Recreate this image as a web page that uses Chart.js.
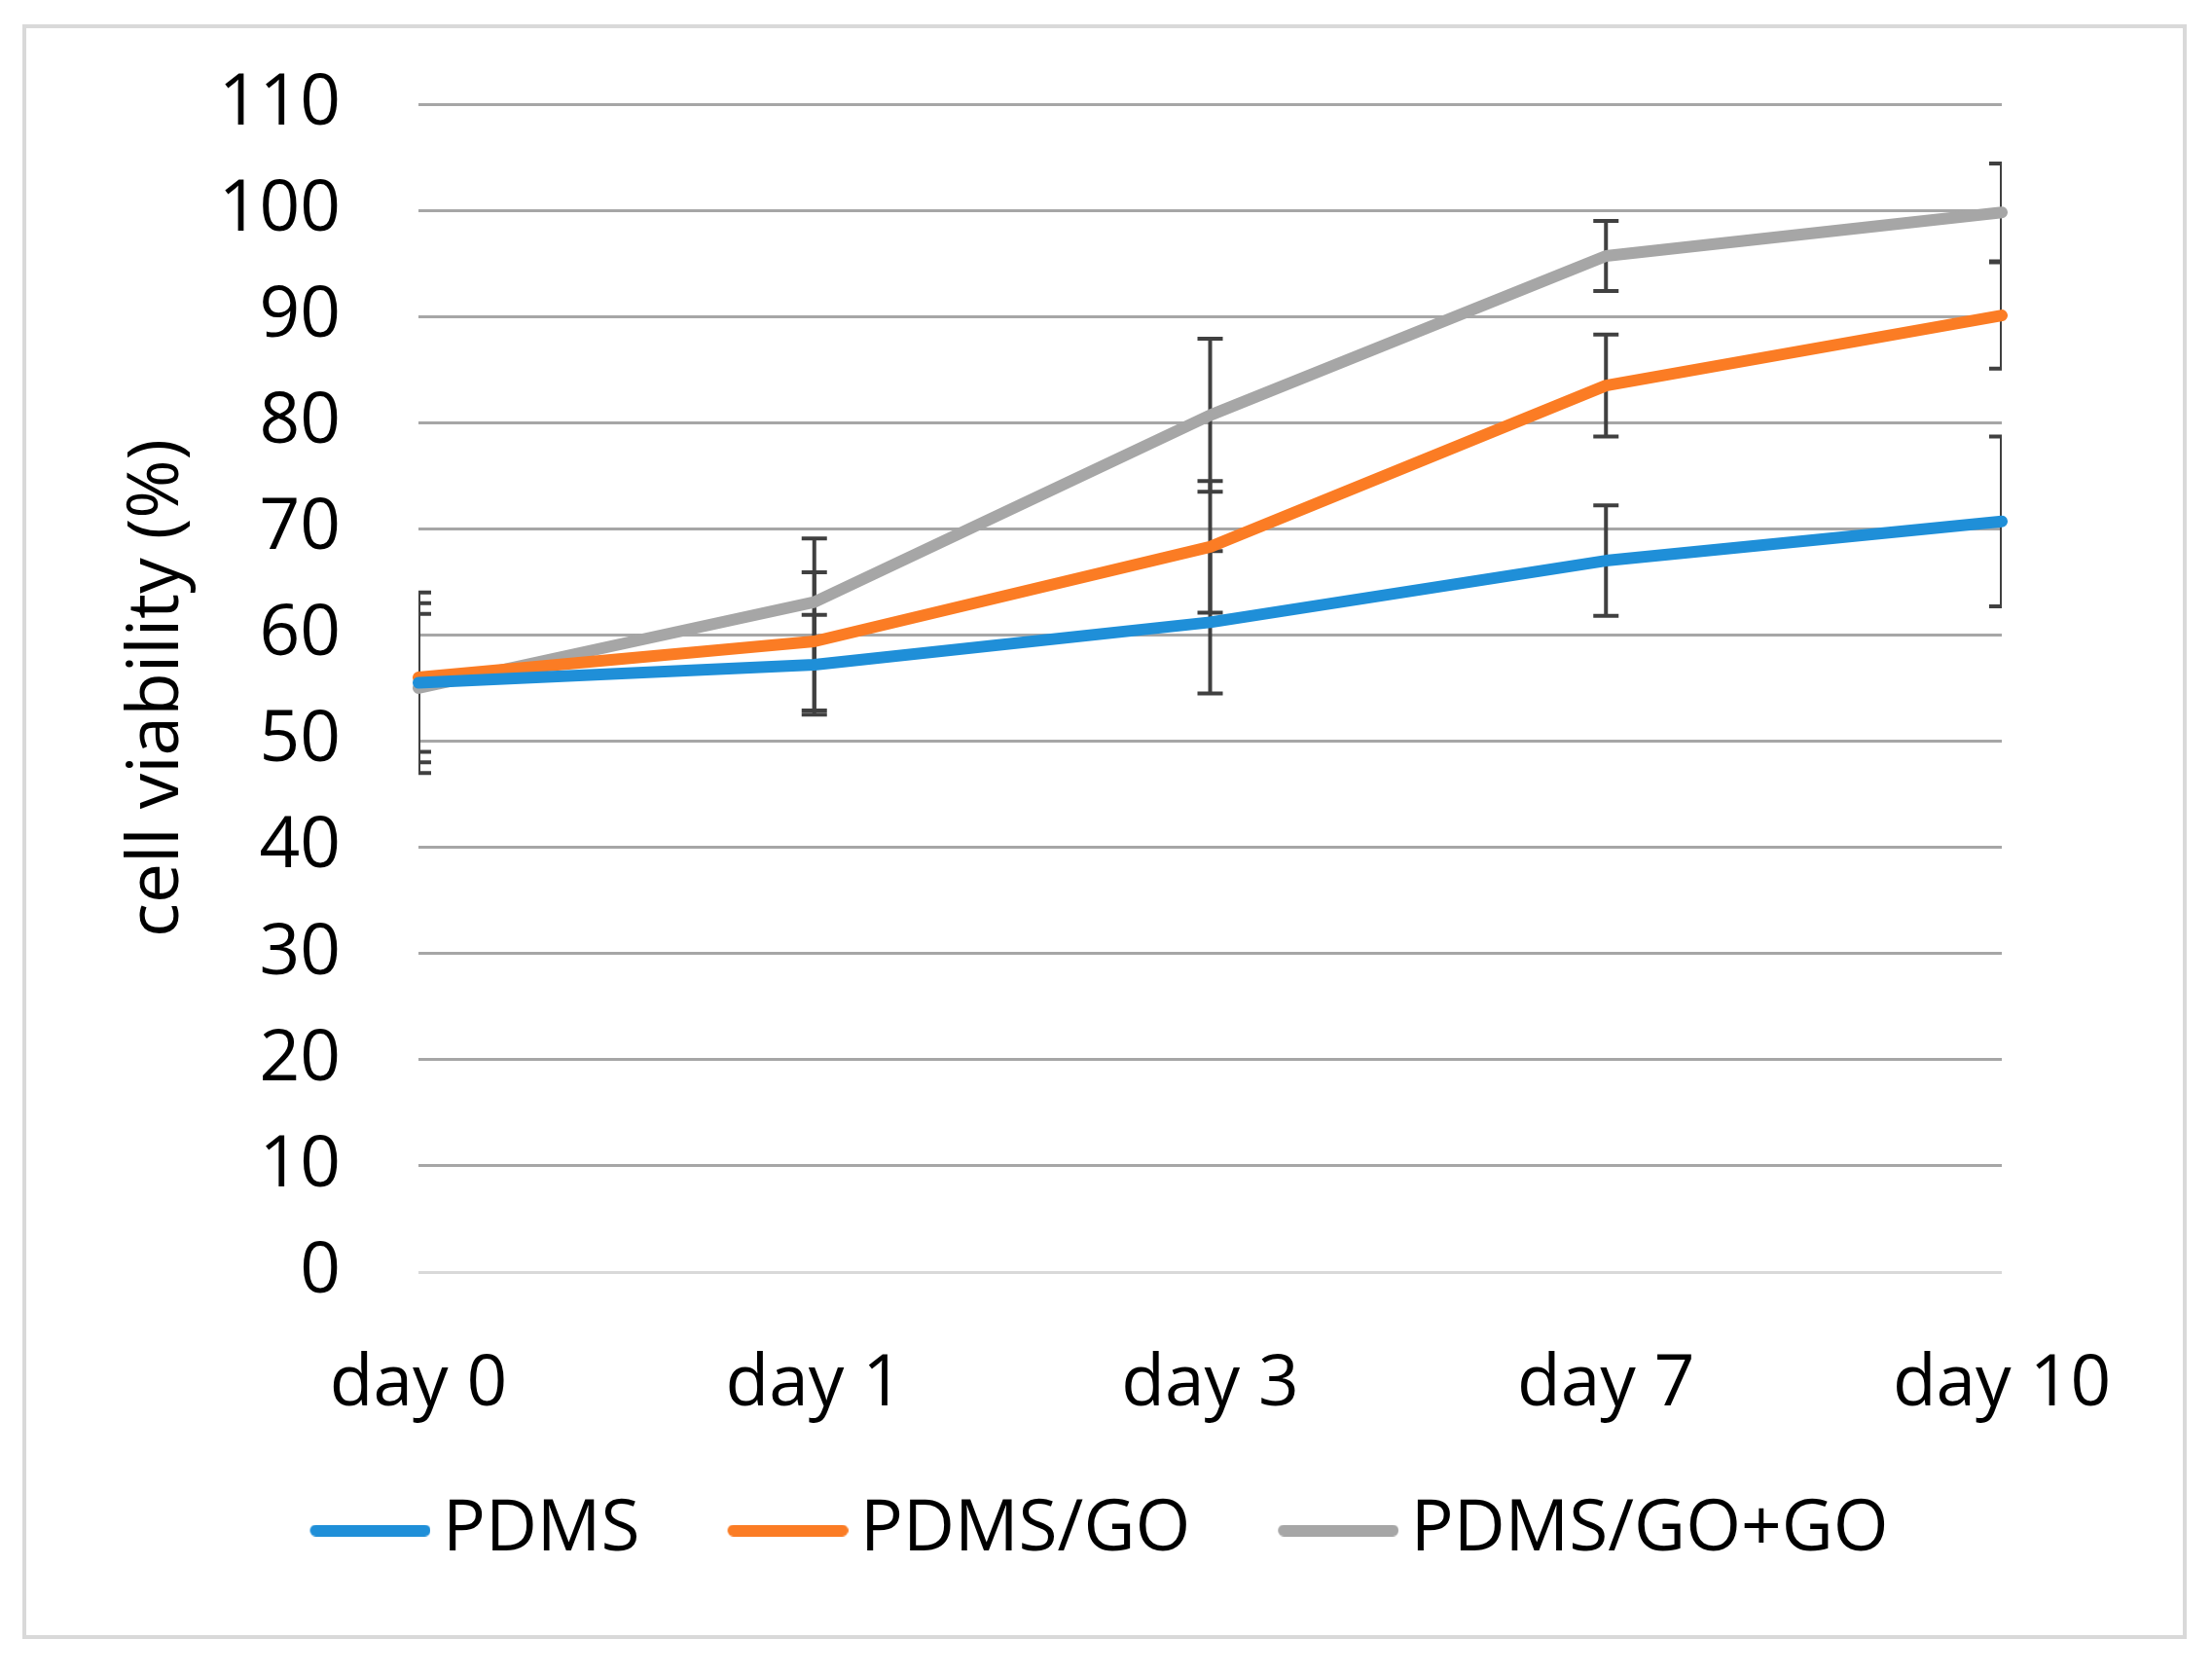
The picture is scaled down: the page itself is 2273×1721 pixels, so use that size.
<!DOCTYPE html>
<html>
<head>
<meta charset="utf-8">
<script src="https://cdn.jsdelivr.net/npm/chart.js@4.4.1/dist/chart.umd.min.js"></script>
<style>
  html, body { margin: 0; padding: 0; background: #fff; }
  #wrap { position: relative; width: 2273px; height: 1721px; }
  #frame {
    position: absolute; left: 23px; top: 25px; width: 2216px; height: 1651px;
    border: 4px solid #d9d9d9; pointer-events: none;
  }
</style>
</head>
<body>
<div id="wrap">
  <canvas id="chart" width="2273" height="1721"></canvas>
  <div id="frame"></div>
</div>
<script>
const labels = ['day 0', 'day 1', 'day 3', 'day 7', 'day 10'];
const pdms = [55.5, 57.2, 61.2, 67.0, 70.7];
const pdmsGo = [56.0, 59.4, 68.3, 83.5, 90.1];
const pdmsGoGo = [55.0, 63.1, 80.7, 95.7, 99.8];
const pdmsErr = [6.5, 4.7, 6.7, 5.2, 8.0];
const pdmsGoErr = [8.0, 6.5, 6.2, 4.8, 5.0];
const pdmsGoGoErr = [8.0, 6.0, 7.2, 3.3, 4.6];

const FONT = '"Open Sans", "Noto Sans", sans-serif';
const FS = 73;

// legend swatch: a thick line placed at the right end of a wider image,
// so the label text sits close to it and items keep a wide gap between them
function legendLine(color) {
    const c = document.createElement('canvas');
    c.width = 178;
    c.height = 12;
    const g = c.getContext('2d');
    g.strokeStyle = color;
    g.lineWidth = 12;
    g.lineCap = 'round';
    g.beginPath();
    g.moveTo(60, 6);
    g.lineTo(172, 6);
    g.stroke();
    return c;
}

function series(label, data, errors, color) {
    return {
        label,
        data,
        errors,
        borderColor: color,
        backgroundColor: color,
        borderWidth: 12,
        borderJoinStyle: 'round',
        borderCapStyle: 'round',
        tension: 0,
        pointRadius: 0,
        pointStyle: legendLine(color),
        fill: false,
    };
}

// error bars, clipped to the plot like Excel does at the edges
const errorBars = {
    id: 'errorBars',
    beforeDatasetsDraw(chart) {
        const { ctx, chartArea, scales: { x, y } } = chart;
        ctx.save();
        ctx.beginPath();
        ctx.rect(chartArea.left, chartArea.top, chartArea.right - chartArea.left, chartArea.bottom - chartArea.top);
        ctx.clip();
        ctx.strokeStyle = '#404040';
        ctx.lineWidth = 4;
        chart.data.datasets.forEach(ds => {
            ds.data.forEach((v, i) => {
                const px = x.getPixelForValue(i);
                const hi = y.getPixelForValue(v + ds.errors[i]);
                const lo = y.getPixelForValue(v - ds.errors[i]);
                ctx.beginPath();
                ctx.moveTo(px, hi); ctx.lineTo(px, lo);
                ctx.moveTo(px - 13, hi); ctx.lineTo(px + 13, hi);
                ctx.moveTo(px - 13, lo); ctx.lineTo(px + 13, lo);
                ctx.stroke();
            });
        });
        ctx.restore();
    }
};

new Chart(document.getElementById('chart'), {
    type: 'line',
    data: {
        labels,
        datasets: [
            series('PDMS', pdms, pdmsErr, '#1f8fd8'),
            series('PDMS/GO', pdmsGo, pdmsGoErr, '#fb7c24'),
            series('PDMS/GO+GO', pdmsGoGo, pdmsGoGoErr, '#a6a6a6'),
        ]
    },
    options: {
        responsive: false,
        devicePixelRatio: 1,
        animation: false,
        layout: { padding: { left: 25, right: 69, top: 107, bottom: 102 } },
        scales: {
            x: {
                offset: false,
                grid: { display: false, drawTicks: false },
                border: { display: false },
                ticks: { color: '#000', font: { family: FONT, size: FS }, padding: 72, maxRotation: 0, autoSkip: false },
                afterFit(scale) { scale.height = 169; }
            },
            y: {
                min: 0,
                max: 110,
                grid: {
                    drawTicks: false,
                    lineWidth: 3,
                    color: ctx => ctx.tick && ctx.tick.value === 0 ? '#d9d9d9' : '#a6a6a6'
                },
                border: { display: false },
                ticks: { stepSize: 10, color: '#000', font: { family: FONT, size: FS }, padding: 80 },
                title: {
                    display: true,
                    text: 'cell viability (%)',
                    color: '#000',
                    font: { family: FONT, size: FS },
                    padding: { top: 93, bottom: 0 }
                },
                afterFit(scale) {
                    scale.width = 405;
                    // the big tick padding should not push the plot down
                    scale.paddingTop = 0;
                    scale.paddingBottom = 0;
                }
            },
            // empty axis that only reserves room on the right
            yr: {
                position: 'right',
                display: true,
                grid: { display: false },
                border: { display: false },
                ticks: { display: false },
                afterFit(scale) { scale.width = 147; }
            }
        },
        plugins: {
            legend: {
                position: 'bottom',
                labels: {
                    usePointStyle: true,
                    pointStyleWidth: 130,
                    color: '#000',
                    font: { family: FONT, size: FS },
                    padding: 60,
                }
            },
            tooltip: { enabled: false }
        }
    },
    plugins: [errorBars]
});
</script>
</body>
</html>
